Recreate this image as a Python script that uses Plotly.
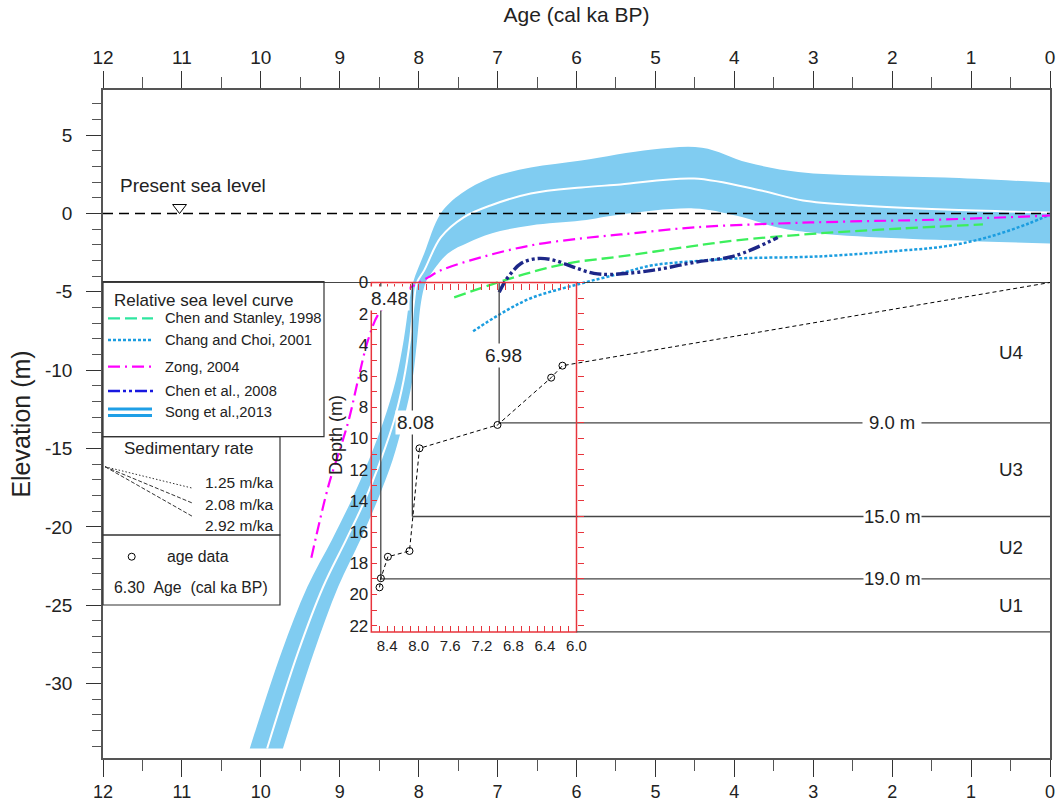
import plotly.graph_objects as go

# ------------------------------------------------------------------ data
AGE_RANGE = [12, 0]            # cal ka BP (reversed)
ELEV_RANGE = [-34.75, 7.88]    # m
DEPTH_RANGE = [30.48, -12.34]  # m (inset depth axis, reversed)

age_ticks = list(range(0, 13))
elev_ticks = [-30, -25, -20, -15, -10, -5, 0, 5]
depth_ticks = list(range(0, 23, 2))
inset_age_ticks = [8.4, 8.0, 7.6, 7.2, 6.8, 6.4, 6.0]
inset_box_age = [8.6, 6.0]
inset_box_depth = [0.0, 22.4]

present_sea_level = 0.0
sea_level_marker_age = 11.03

# Song et al., 2013 (band + centre line)
song_center_age = [9.92, 9.53, 9.21, 8.92, 8.68, 8.48, 8.31, 8.19, 8.11, 8.06, 8.02,
                   7.93, 7.72, 7.43, 7.09, 6.58, 5.94, 5.44, 4.51, 3.66, 3.13, 2.39, 1.33, 0.00]
song_center_elev = [-34.14, -28.03, -23.82, -20.83, -18.28, -15.73, -13.18, -10.64, -8.09, -5.67, -4.39,
                    -3.63, -1.53, -0.25, 0.51, 1.27, 1.66, 1.85, 2.23, 1.46, 0.83, 0.51, 0.25, 0.06]
song_upper_age = [10.14, 9.74, 9.41, 9.10, 8.85, 8.63, 8.44, 8.29, 8.19, 8.12, 8.07,
                  7.93, 7.72, 7.46, 7.08, 6.58, 5.94, 5.04, 4.41, 3.83, 3.19, 2.39, 1.33, 0.00]
song_upper_elev = [-34.14, -28.03, -23.82, -20.83, -18.28, -15.73, -13.18, -10.64, -8.09, -5.67, -4.39,
                   -2.55, 0.00, 1.27, 2.29, 2.93, 3.38, 4.08, 4.20, 3.25, 2.65, 2.42, 2.29, 1.97]
song_lower_age = [9.72, 9.33, 9.02, 8.74, 8.52, 8.33, 8.19, 8.08, 8.02, 7.97, 7.91, 7.84,
                  7.63, 7.37, 7.08, 6.58, 5.94, 5.44, 4.51, 3.98, 3.45, 2.93, 1.86, 0.00]
song_lower_elev = [-34.14, -28.03, -23.82, -20.83, -18.28, -15.73, -13.18, -10.64, -8.09, -5.67, -4.39, -3.82,
                   -2.55, -1.85, -1.27, -0.76, -0.45, -0.06, 0.32, -0.13, -0.89, -1.27, -1.59, -1.91]

# Zong, 2004
zong_age = [9.36, 9.14, 8.98, 8.88, 8.76, 8.65, 8.52, 8.39, 8.16, 7.88, 7.72, 7.21, 6.58,
            5.94, 5.44, 4.51, 3.45, 2.52, 1.33, 0.00]
zong_elev = [-21.97, -17.32, -14.78, -13.06, -10.45, -8.22, -6.50, -5.73, -4.90, -4.08, -3.63, -2.80, -2.04,
             -1.59, -1.34, -0.89, -0.64, -0.51, -0.38, -0.13]

# Chen and Stanley, 1998
cs_age = [7.55, 6.99, 6.58, 6.11, 5.44, 4.55, 3.98, 2.93, 1.89, 0.85]
cs_elev = [-5.35, -4.39, -3.76, -3.18, -2.74, -2.10, -1.72, -1.27, -0.96, -0.70]

# Chang and Choi, 2001
cc_age = [7.31, 6.97, 6.58, 5.98, 5.44, 5.04, 4.55, 3.98, 2.93, 1.86, 1.33, 0.80, 0.27, 0.00]
cc_elev = [-7.52, -6.43, -5.41, -4.52, -3.82, -3.31, -3.06, -2.87, -2.74, -2.36, -2.10, -1.53, -0.64, -0.06]

# Chen et al., 2008
ch_age = [6.98, 6.92, 6.87, 6.70, 6.49, 6.28, 6.03, 5.78, 5.56, 5.04, 4.51, 3.98, 3.45]
ch_elev = [-5.03, -4.46, -4.08, -3.18, -2.87, -2.99, -3.44, -3.82, -3.89, -3.63, -3.12, -2.68, -1.53]

# core: age data (cal ka BP) vs depth (m)
core_age = [8.496, 8.479, 8.390, 8.116, 7.990, 7.001, 6.321, 6.178]
core_depth = [19.54, 18.96, 17.58, 17.21, 10.63, 9.13, 6.10, 5.33]
surface_age, surface_depth = 0.0, 0.0

# unit boundaries
boundary_depth = [9.0, 15.0, 19.0]
boundary_age = [6.98, 8.08, 8.48]
boundary_label_age = 2.0
age_label_pos = [(6.93, 4.65), (8.04, 9.0), (8.37, 1.0)]
unit_names = ["U4", "U3", "U2", "U1"]
unit_label_age = 0.49

sed_rates = [1.25, 2.08, 2.92]

legend_entries = ["Chen and Stanley, 1998", "Chang and Choi, 2001", "Zong, 2004",
                  "Chen et al., 2008", "Song et al.,2013"]

# ------------------------------------------------------------------ style
BAND = '#80ccf1'
GREEN = '#3cef5c'
GREEN_LEG = '#2fe6a0'
CYAN = '#1b9de0'
MAGENTA = '#ff00ff'
NAVY = '#1d2788'
BLUE_LEG = '#1818e0'
SONG_LEG = '#1f9fe6'
RED = '#e8343c'
GRAY = '#454545'
AXC = '#555555'
FONT = 'Liberation Sans, Arial, Helvetica, sans-serif'

L, R, T, B = 103, 6, 90, 45
W, H = 1056 - L - R, 803 - T - B


def px(x):
    return (x - L) / W


def py(y):
    return (803 - B - y) / H


def lt(x, y, color, width, dash='solid', shape='linear', yaxis='y', **kw):
    return go.Scatter(x=x, y=y, mode='lines', yaxis=yaxis,
                      line=dict(color=color, width=width, dash=dash, shape=shape),
                      hoverinfo='skip', showlegend=False, **kw)


fig = go.Figure()

# Song et al. band
fig.add_trace(lt(song_upper_age, song_upper_elev, BAND, 0, shape='spline'))
fig.add_trace(lt(song_lower_age, song_lower_elev, BAND, 0, shape='spline',
                 fill='tonexty', fillcolor=BAND))
fig.add_trace(lt(song_center_age, song_center_elev, 'white', 2, shape='spline'))

# present sea level
fig.add_trace(lt(AGE_RANGE, [present_sea_level] * 2, 'black', 1.3, dash='10px,6px'))
fig.add_trace(go.Scatter(x=[sea_level_marker_age], y=[present_sea_level + 0.38], mode='markers',
                         marker=dict(symbol='triangle-down-open', size=12, color='black',
                                     line=dict(width=1, color='black')),
                         hoverinfo='skip', showlegend=False))

# inset: depth 0 line, boundaries
fig.add_trace(lt(AGE_RANGE, [0, 0], GRAY, 1.2, yaxis='y2'))
for a, d in zip(boundary_age, boundary_depth):
    fig.add_trace(lt([a, 0], [d, d], GRAY, 1.3, yaxis='y2'))
    fig.add_trace(lt([a, a], [0, d], GRAY, 1.3, yaxis='y2'))

# age-depth model
fig.add_trace(lt(core_age + [surface_age], core_depth + [surface_depth], 'black', 1,
                 dash='4px,3px', yaxis='y2'))
fig.add_trace(go.Scatter(x=core_age, y=core_depth, yaxis='y2', mode='markers',
                         marker=dict(symbol='circle-open', size=7, color='black',
                                     line=dict(width=1, color='black')),
                         hoverinfo='skip', showlegend=False))

# sea-level curves
fig.add_trace(lt(cs_age, cs_elev, GREEN, 2.3, dash='12px,5px', shape='spline'))
fig.add_trace(lt(cc_age, cc_elev, CYAN, 2.5, dash='3px,2px', shape='spline'))
fig.add_trace(lt(zong_age, zong_elev, MAGENTA, 2.2, dash='12px,5px,2px,5px', shape='spline'))
fig.add_trace(lt(ch_age, ch_elev, NAVY, 3.4, dash='12px,3px,3px,3px,3px,3px', shape='spline'))

# dummy traces to activate extra axes
for xa, ya in [('x2', 'y2'), ('x3', 'y2'), ('x', 'y3'), ('x4', 'y')]:
    fig.add_trace(go.Scatter(x=[], y=[], xaxis=xa, yaxis=ya, showlegend=False, hoverinfo='skip'))

# ------------------------------------------------------------------ shapes
shapes = []
# inset frame
shapes.append(dict(type='rect', xref='x', yref='y2', x0=inset_box_age[0], x1=inset_box_age[1],
                   y0=inset_box_depth[0], y1=inset_box_depth[1], line=dict(color=RED, width=1.5)))
shapes.append(dict(type='line', xref='x', yref='y2', x0=inset_box_age[1], x1=0,
                   y0=inset_box_depth[1], y1=inset_box_depth[1], line=dict(color=GRAY, width=1.3)))
# legend boxes
for (x0, y0, x1, y1) in [(103, 281.7, 324, 436.7), (103, 436.7, 280, 535), (103, 535, 280, 605)]:
    shapes.append(dict(type='rect', xref='paper', yref='paper', x0=px(x0), x1=px(x1),
                       y0=py(y1), y1=py(y0), line=dict(color='#333', width=1.2),
                       fillcolor='rgba(0,0,0,0)', layer='above'))
leg_y = [318.3, 340, 366.7, 391, 412.3]
leg_style = [(GREEN_LEG, 2.3, '12px,5px'), (CYAN, 2.5, '3px,2px'),
             (MAGENTA, 2.2, '12px,5px,2px,5px'), (BLUE_LEG, 2.5, '12px,3px,3px,3px,3px,3px')]
for yy, (c, w, d) in zip(leg_y[:4], leg_style):
    shapes.append(dict(type='line', xref='paper', yref='paper', x0=px(108), x1=px(153),
                       y0=py(yy), y1=py(yy), line=dict(color=c, width=w, dash=d)))
for dy in (-3.2, 3.2):
    shapes.append(dict(type='line', xref='paper', yref='paper', x0=px(108), x1=px(152),
                       y0=py(leg_y[4] + dy), y1=py(leg_y[4] + dy), line=dict(color=SONG_LEG, width=3)))
# sedimentary rate glyph
for yy, d in zip([488.3, 503.3, 516.7], ['1.5px,2px', '4px,2px', '4px,2px']):
    shapes.append(dict(type='line', xref='paper', yref='paper', x0=px(105), y0=py(466.7),
                       x1=px(193), y1=py(yy), line=dict(color='#333', width=1, dash=d)))
# age data glyph
shapes.append(dict(type='circle', xref='paper', yref='paper', xsizemode='pixel', ysizemode='pixel',
                   xanchor=px(131.7), yanchor=py(556.7), x0=-3.5, x1=3.5, y0=-3.5, y1=3.5,
                   line=dict(color='black', width=1)))

# ------------------------------------------------------------------ annotations
ann = []


def pa(text, x, y, size, xanchor='left', **kw):
    ann.append(dict(text=text, x=px(x), y=py(y), xref='paper', yref='paper', showarrow=False,
                    xanchor=xanchor, yanchor='middle', font=dict(size=size, color='#222'), **kw))


pa('Present sea level', 118, 185, 19)
pa('Relative sea level curve', 111.7, 300, 17)
for yy, txt in zip([318.3, 340, 366.7, 391, 411.7], legend_entries):
    pa(txt, 163, yy, 14.7)
pa('Sedimentary rate', 188.3, 448.3, 17, xanchor='center')
for yy, r in zip([482.3, 504.3, 525.7], sed_rates):
    pa(f'{r:.2f} m/ka', 203.3, yy, 15.5)
pa('age data', 165, 556.7, 15.8)
pa('6.30\u00a0\u00a0Age\u00a0\u00a0(cal ka BP)', 111.7, 587.7, 15.8)
pa('Depth (m)', 336, 435, 18, xanchor='center', textangle=-90)

for (ax_, dy_), a in zip(age_label_pos, boundary_age):
    ann.append(dict(text=f'{a:.2f}', x=ax_, y=dy_, xref='x', yref='y2', showarrow=False,
                    font=dict(size=19, color='#222'), bgcolor='white', borderpad=1))
for d in boundary_depth:
    ann.append(dict(text=f'{d:.1f} m', x=boundary_label_age, y=d, xref='x', yref='y2',
                    showarrow=False, font=dict(size=18.5, color='#222'), bgcolor='white',
                    borderpad=6 if d < 10 else 0))
unit_edges = [0.0] + boundary_depth + [inset_box_depth[1]]
for i, name in enumerate(unit_names):
    ann.append(dict(text=name, x=unit_label_age, y=(unit_edges[i] + unit_edges[i + 1]) / 2,
                    xref='x', yref='y2', showarrow=False, font=dict(size=18.8, color='#222')))

# ------------------------------------------------------------------ axes
base = dict(showgrid=False, zeroline=False)


def age_axis(fsize):
    return dict(range=AGE_RANGE, tickvals=age_ticks, ticktext=[str(v) for v in age_ticks],
                ticks='outside', ticklen=17, tickwidth=1.3, tickcolor='#333',
                minor=dict(dtick=0.5, tick0=0, ticks='outside', ticklen=11, tickwidth=1.1, tickcolor=AXC),
                showline=True, linecolor=AXC, linewidth=1.5,
                tickfont=dict(size=fsize, color='#222'), **base)


inset_minor = [round(8.5 - 0.1 * i, 1) for i in range(26)]
inset_minor = [v for v in inset_minor if v not in inset_age_ticks]
depth_minor = [v for v in range(1, 23, 2)]

fig.update_layout(
    width=1056, height=803,
    margin=dict(l=L, r=R, t=T, b=B, autoexpand=False),
    paper_bgcolor='white', plot_bgcolor='white',
    font=dict(family=FONT, color='#222'),
    showlegend=False,
    xaxis=dict(**age_axis(18), anchor='y', ticklabelstandoff=0),
    xaxis4=dict(**age_axis(19), overlaying='x', side='top', anchor='y', ticklabelstandoff=0,
                title=dict(text='Age (cal ka BP)', font=dict(size=21), standoff=18)),
    xaxis2=dict(range=AGE_RANGE, overlaying='x', anchor='free',
                position=(DEPTH_RANGE[0] - inset_box_depth[1]) / (DEPTH_RANGE[0] - DEPTH_RANGE[1]),
                side='bottom', tickvals=inset_age_ticks, ticktext=[f'{v:.1f}' for v in inset_age_ticks],
                ticks='inside', ticklen=6, tickwidth=1, tickcolor=RED,
                minor=dict(tickmode='array', tickvals=inset_minor, ticks='inside', ticklen=6,
                           tickwidth=1, tickcolor=RED),
                tickfont=dict(size=15, color='#222'), showline=False, ticklabelstandoff=3, **base),
    xaxis3=dict(range=AGE_RANGE, overlaying='x', anchor='free',
                position=(DEPTH_RANGE[0] - inset_box_depth[0]) / (DEPTH_RANGE[0] - DEPTH_RANGE[1]),
                side='top', tickvals=inset_minor + inset_age_ticks, ticks='inside', ticklen=6,
                tickwidth=1, tickcolor=RED, showticklabels=False, showline=False, **base),
    yaxis=dict(range=ELEV_RANGE, tickvals=elev_ticks, ticktext=[str(v) for v in elev_ticks],
               ticks='outside', ticklen=15, tickwidth=1.3, tickcolor='#333',
               minor=dict(dtick=1, tick0=0, ticks='outside', ticklen=9, tickwidth=1.1, tickcolor=AXC),
               showline=True, mirror=True, linecolor=AXC, linewidth=1.5,
               tickfont=dict(size=19, color='#222'), ticklabelstandoff=10,
               title=dict(text='Elevation (m)', font=dict(size=25), standoff=7), **base),
    yaxis2=dict(range=DEPTH_RANGE, overlaying='y', anchor='free',
                position=(AGE_RANGE[0] - inset_box_age[0]) / (AGE_RANGE[0] - AGE_RANGE[1]),
                side='left', tickvals=depth_ticks, ticktext=[str(v) for v in depth_ticks],
                ticks='inside', ticklen=5, tickwidth=1, tickcolor=RED,
                minor=dict(tickmode='array', tickvals=depth_minor, ticks='inside', ticklen=5,
                           tickwidth=1, tickcolor=RED),
                tickfont=dict(size=17, color='#222'), showline=False, ticklabelstandoff=3, **base),
    yaxis3=dict(range=DEPTH_RANGE, overlaying='y', anchor='free',
                position=(AGE_RANGE[0] - inset_box_age[1]) / (AGE_RANGE[0] - AGE_RANGE[1]),
                side='right', tickvals=list(range(0, 23)), ticks='outside', ticklen=6, tickwidth=1,
                tickcolor=RED, showticklabels=False, showline=False, **base),
    shapes=shapes,
    annotations=ann,
)

fig.write_html('out.html')
